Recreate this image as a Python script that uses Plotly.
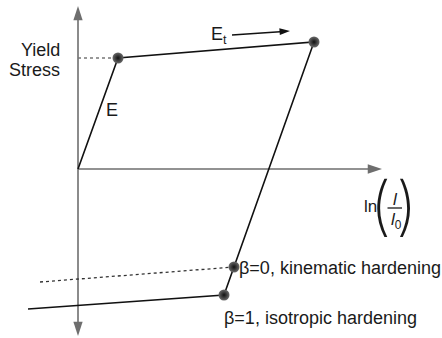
import plotly.graph_objects as go

# Schematic stress–strain path (strain and stress in arbitrary units)
strain_path = [0.0, 4.0, 23.6, 14.6, -5.0]
stress_path = [0.0, 11.1, 12.7, -12.6, -14.0]

# Key states: initial yield, end of forward loading, reverse yield (kinematic / isotropic)
point_strain = [4.0, 23.6, 15.6, 14.6]
point_stress = [11.1, 12.7, -9.8, -12.6]

# Reverse plastic branch for kinematic hardening (beta = 0)
kin_strain = [-3.8, 15.6]
kin_stress = [-11.3, -9.8]

# Guide from the stress axis to the initial yield point
yield_guide_strain = [0.0, 4.0]
yield_guide_stress = [11.1, 11.1]

# Tangent-modulus direction arrow (tail, head)
et_strain = [15.4, 21.2]
et_stress = [13.4, 13.8]

# Axis extents
x_axis_end = 30.4
y_axis_top = 16.3
y_axis_bottom = -16.7

X_RANGE = [-7.8, 36.4]
Y_RANGE = [-16.9, 16.9]

FONT = "Liberation Sans, Arial, sans-serif"
TXT = "#1a1a1a"
AXIS_COL = "#6e6e6e"

fig = go.Figure()


def arrow(xs, ys, color, width, head):
    # two-point line whose end carries an arrowhead oriented along the segment
    fig.add_trace(go.Scatter(
        x=xs, y=ys, mode="lines+markers",
        line=dict(color=color, width=width),
        marker=dict(symbol="arrow", angleref="previous", size=head,
                    color=color, line=dict(width=0)),
        hoverinfo="skip"))


# Axes
arrow([0, 0], [0, y_axis_top], AXIS_COL, 1.6, 15)
arrow([0, 0], [0, y_axis_bottom], AXIS_COL, 1.6, 15)
arrow([0, x_axis_end], [0, 0], AXIS_COL, 1.6, 15)

fig.add_trace(go.Scatter(
    x=yield_guide_strain, y=yield_guide_stress, mode="lines",
    line=dict(color="#777777", width=1.3, dash="dot"), hoverinfo="skip"))
fig.add_trace(go.Scatter(
    x=kin_strain, y=kin_stress, mode="lines",
    line=dict(color="#333333", width=1.3, dash="dot"), hoverinfo="skip"))
fig.add_trace(go.Scatter(
    x=strain_path, y=stress_path, mode="lines",
    line=dict(color="#111111", width=1.6), hoverinfo="skip"))
fig.add_trace(go.Scatter(
    x=point_strain, y=point_stress, mode="markers",
    marker=dict(size=11, color="#6a6a6a",
                gradient=dict(type="radial", color="#111111"),
                line=dict(width=0)),
    hoverinfo="skip"))

arrow(et_strain, et_stress, "#111111", 1.5, 11)

annotations = []


def label(text, x, y, size=18, xanchor="center", yanchor="middle",
          family=FONT, weight=None):
    font = dict(family=family, size=size, color=TXT)
    if weight is not None:
        font["weight"] = weight
    annotations.append(dict(
        text=text, x=x, y=y, xref="x", yref="y", showarrow=False,
        xanchor=xanchor, yanchor=yanchor, font=font))


label("Yield", -1.6, 11.9, xanchor="right")
label("Stress", -1.6, 9.9, xanchor="right")
label("E", 3.4, 5.9)
label("E<sub>t</sub>", 13.1, 13.4, xanchor="left")
label("β=0, kinematic hardening", 15.9, -9.9, xanchor="left")
label("β=1, isotropic hardening", 14.4, -14.9, xanchor="left")

# ln(l / l0) axis label
label("ln", 29.2, -3.7, size=17)
label("(", 30.2, -3.5, size=64, family="Inter, Liberation Sans", weight=200)
label(")", 32.8, -3.5, size=64, family="Inter, Liberation Sans", weight=200)
label("<i>l</i>", 31.7, -3.0, size=17)
label("<i>l</i><sub>0</sub>", 31.8, -5.2, size=17)

fig.add_shape(type="line", x0=30.95, x1=32.4, y0=-3.9, y1=-3.9,
              xref="x", yref="y", line=dict(color=TXT, width=1.3))

fig.update_layout(
    width=442, height=338,
    margin=dict(l=0, r=0, t=0, b=0),
    paper_bgcolor="white", plot_bgcolor="white",
    showlegend=False,
    xaxis=dict(range=X_RANGE, visible=False, fixedrange=True),
    yaxis=dict(range=Y_RANGE, visible=False, fixedrange=True),
    annotations=annotations,
)

fig.write_html("out.html")
